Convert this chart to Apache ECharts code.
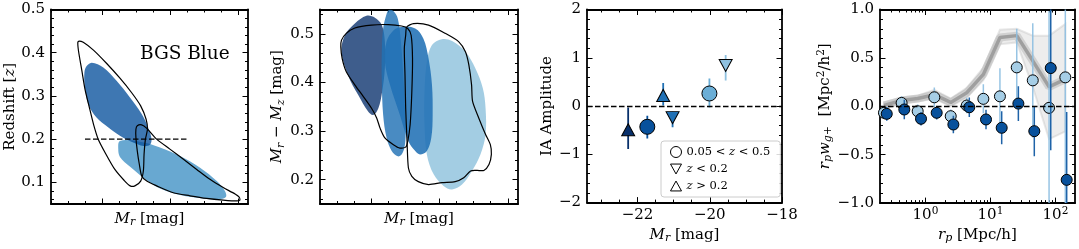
<!DOCTYPE html>
<html><head><meta charset="utf-8">
<script src="https://cdn.jsdelivr.net/npm/echarts@6/dist/echarts.min.js"></script>
<style>html,body{margin:0;padding:0;background:#fff}#c{width:1079px;height:249px}</style>
</head><body><div id="c"></div>
<script>
// ================= DATA =================
// Panel 1: Mr vs redshift (contours / density blobs)
const p1XMajor = [-22, -20, -18];
const p1XMinor = [-23.5, -23, -22.5, -21.5, -21, -20.5, -19.5, -19, -18.5];
const p1YMajor = [0.1, 0.2, 0.3, 0.4, 0.5];
const p1YMinor = [0.06, 0.08, 0.12, 0.14, 0.16, 0.18, 0.22, 0.24, 0.26, 0.28, 0.32, 0.34, 0.36, 0.38, 0.42, 0.44, 0.46, 0.48];
const p1DarkBlob = [[-22.30,0.377],[-21.96,0.366],[-21.57,0.335],[-21.17,0.296],[-20.83,0.258],[-20.64,0.227],[-20.54,0.200],[-20.59,0.187],[-20.78,0.184],[-21.08,0.192],[-21.47,0.208],[-21.81,0.227],[-22.16,0.250],[-22.40,0.281],[-22.50,0.319],[-22.52,0.350],[-22.47,0.367]];
const p1LightBlob = [[-21.47,0.196],[-20.88,0.194],[-20.29,0.181],[-19.70,0.161],[-19.11,0.134],[-18.62,0.103],[-18.38,0.080],[-18.35,0.066],[-18.57,0.061],[-19.02,0.063],[-19.70,0.071],[-20.29,0.086],[-20.78,0.111],[-21.17,0.136],[-21.47,0.159],[-21.52,0.177]];
const p1ContourHigh = [[-22.67,0.427],[-22.55,0.424],[-22.25,0.406],[-21.86,0.375],[-21.47,0.341],[-21.13,0.308],[-20.86,0.277],[-20.70,0.246],[-20.66,0.223],[-20.72,0.200],[-20.76,0.165],[-20.78,0.127],[-20.86,0.103],[-21.03,0.092],[-21.17,0.092],[-21.35,0.105],[-21.62,0.130],[-21.88,0.165],[-22.11,0.200],[-22.25,0.235],[-22.37,0.273],[-22.50,0.316],[-22.59,0.358],[-22.69,0.404],[-22.71,0.424]];
const p1ContourLow = [[-20.96,0.231],[-20.83,0.233],[-20.68,0.225],[-20.39,0.200],[-20.00,0.177],[-19.61,0.154],[-19.21,0.130],[-18.82,0.107],[-18.43,0.088],[-18.08,0.073],[-17.96,0.066],[-17.94,0.059],[-18.03,0.057],[-18.43,0.059],[-18.92,0.063],[-19.41,0.069],[-19.90,0.076],[-20.39,0.092],[-20.68,0.103],[-20.83,0.115],[-20.90,0.142],[-20.96,0.173],[-21.00,0.204],[-21.00,0.223]];
const p1Split = [[-22.5, 0.2], [-19.5, 0.2]];

// Panel 2: Mr vs Mr - Mz
const p2YMajor = [0.2, 0.3, 0.4, 0.5];
const p2YMinor = [0.16, 0.18, 0.22, 0.24, 0.26, 0.28, 0.32, 0.34, 0.36, 0.38, 0.42, 0.44, 0.46, 0.48, 0.52, 0.54];
const p2Navy = [[-22.14,0.537],[-21.89,0.533],[-21.69,0.518],[-21.60,0.484],[-21.60,0.429],[-21.68,0.381],[-21.79,0.347],[-21.94,0.333],[-22.09,0.340],[-22.38,0.374],[-22.68,0.415],[-22.87,0.463],[-22.77,0.497],[-22.48,0.521]];
const p2Tall = [[-21.48,0.549],[-21.35,0.547],[-21.22,0.531],[-21.13,0.484],[-21.06,0.415],[-21.01,0.347],[-20.99,0.293],[-21.03,0.265],[-21.11,0.252],[-21.22,0.248],[-21.40,0.259],[-21.55,0.286],[-21.65,0.333],[-21.69,0.402],[-21.69,0.463],[-21.65,0.511],[-21.55,0.541]];
const p2Mid = [[-21.11,0.514],[-20.71,0.511],[-20.47,0.490],[-20.32,0.449],[-20.22,0.395],[-20.20,0.333],[-20.24,0.286],[-20.37,0.259],[-20.57,0.252],[-20.71,0.259],[-20.91,0.279],[-21.16,0.333],[-21.45,0.395],[-21.60,0.443],[-21.55,0.484],[-21.35,0.507]];
const p2Light = [[-19.93,0.489],[-19.63,0.485],[-19.24,0.463],[-18.95,0.429],[-18.73,0.388],[-18.65,0.347],[-18.65,0.293],[-18.80,0.252],[-19.05,0.218],[-19.34,0.190],[-19.63,0.180],[-19.88,0.187],[-20.17,0.211],[-20.37,0.252],[-20.44,0.313],[-20.44,0.381],[-20.37,0.443],[-20.22,0.477]];
const p2ContourLeft = [[-22.87,0.487],[-22.73,0.501],[-22.48,0.512],[-21.99,0.518],[-21.50,0.519],[-21.11,0.516],[-20.93,0.511],[-20.83,0.497],[-20.79,0.449],[-20.81,0.381],[-20.86,0.313],[-20.93,0.279],[-20.99,0.267],[-21.16,0.265],[-21.35,0.272],[-21.60,0.286],[-21.74,0.306],[-21.84,0.327],[-21.99,0.347],[-22.23,0.371],[-22.48,0.395],[-22.73,0.422],[-22.85,0.449],[-22.89,0.473]];
const p2ContourRight = [[-20.99,0.497],[-20.96,0.514],[-20.76,0.521],[-20.32,0.518],[-19.83,0.501],[-19.44,0.484],[-19.24,0.463],[-19.14,0.436],[-19.06,0.395],[-19.03,0.361],[-18.85,0.327],[-18.65,0.293],[-18.51,0.272],[-18.48,0.252],[-18.55,0.231],[-18.70,0.219],[-18.90,0.219],[-19.09,0.218],[-19.29,0.204],[-19.54,0.196],[-19.93,0.194],[-20.32,0.190],[-20.62,0.196],[-20.81,0.207],[-20.91,0.224],[-20.95,0.279],[-20.99,0.347],[-21.01,0.415],[-21.03,0.470]];

// Panel 3: IA amplitude vs Mr
const p3XMajor = [-22, -20, -18];
const p3XMinor = [-23, -22.5, -21.5, -21, -20.5, -19.5, -19, -18.5];
const p3YMajor = [-2, -1, 0, 1, 2];
const p3YMinor = [-1.8,-1.6,-1.4,-1.2,-0.8,-0.6,-0.4,-0.2,0.2,0.4,0.6,0.8,1.2,1.4,1.6,1.8];
const circMr = [-21.73, -20.01], circA = [-0.43, 0.26], circLo = [-0.67, -0.03], circHi = [-0.20, 0.57];
const circColors = ['#08519c', '#6baed6'];
const downMr = [-21.03, -19.56], downA = [-0.24, 0.84], downLo = [-0.44, 0.53], downHi = [-0.12, 1.06];
const downColors = ['#2171b5', '#8fc1e0'];
const upMr = [-22.26, -21.29], upA = [-0.49, 0.22], upLo = [-0.89, 0.01], upHi = [-0.03, 0.48];
const upColors = ['#08306b', '#2171b5'];
const legendNames = ['0.05 < z < 0.5', 'z < 0.2', 'z > 0.2'];

// Panel 4: rp * wg+ vs rp
const p4XMajor = [1, 10, 100];
const p4XMinor = [0.3,0.4,0.5,0.6,0.7,0.8,0.9,2,3,4,5,6,7,8,9,20,30,40,50,60,70,80,90];
const p4YMajor = [-1, -0.5, 0, 0.5, 1];
const p4YMinor = [-0.9,-0.8,-0.7,-0.6,-0.4,-0.3,-0.2,-0.1,0.1,0.2,0.3,0.4,0.6,0.7,0.8,0.9];
const rpLight = [0.23,0.43,0.76,1.37,2.45,4.32,7.78,14.0,25.4,44.8,79.8,142];
const wLight = [-0.067,0.035,-0.051,0.093,-0.102,0.008,0.077,0.103,0.402,0.268,-0.016,0.299];
const wLightErr = [0.06,0.07,0.07,0.10,0.07,0.08,0.15,0.29,0.40,0.59,1.00,1.30];
const rpDark = [0.254,0.473,0.855,1.49,2.69,4.73,8.55,14.9,26.9,47.3,84.7,149];
const wDark = [-0.078,-0.033,-0.129,-0.067,-0.188,-0.010,-0.136,-0.222,0.028,-0.257,0.395,-0.760];
const wDarkErr = [0.07,0.10,0.07,0.07,0.09,0.10,0.10,0.17,0.18,0.26,0.85,0.70];
const rpModel = [0.23,0.43,0.76,1.37,2.45,4.32,7.78,14.0,25.4,44.8,79.8,142];
const wModel = [0.01,0.06,0.08,0.12,0.04,0.14,0.33,0.71,0.73,0.47,0.20,0.28];
const wModelLo = [-0.02,0.03,0.05,0.08,0.00,0.09,0.27,0.64,0.66,0.20,-0.34,-0.26];
const wModelHi = [0.04,0.09,0.11,0.17,0.08,0.19,0.40,0.79,0.80,0.73,0.73,0.85];

// ================= STYLE / BUILD =================
const FONT = 'DejaVu Serif';
const FS = 15;
const rich = {
  n: {fontFamily: FONT, fontSize: FS, color: '#000', verticalAlign: 'middle'},
  i: {fontFamily: FONT, fontSize: FS, fontStyle: 'italic', color: '#000', verticalAlign: 'middle'},
  sub: {fontFamily: FONT, fontSize: 11, fontStyle: 'italic', color: '#000', verticalAlign: 'bottom', padding: [7, 0, 0, 0]},
  sup: {fontFamily: FONT, fontSize: 10.5, color: '#000', verticalAlign: 'top', padding: [0, 0, 7, 0]}
};
const tickLine = {color: '#000', width: 1};
const frameLine = {color: '#000', width: 1.8};
const xAxes = [], yAxes = [];
function axisSet(kind, grid, o) {
  const arr = kind === 'x' ? xAxes : yAxes;
  const pos = kind === 'x' ? ['bottom', 'top'] : ['left', 'right'];
  const base = {gridIndex: grid, type: o.type || 'value', min: o.min, max: o.max,
    splitLine: {show: false}, axisPointer: {show: false}, silent: true};
  if (o.type === 'log') base.logBase = 10;
  const idx = arr.length;
  pos.forEach((p, k) => {
    arr.push(Object.assign({}, base, {
      position: p,
      axisLine: {show: true, onZero: false, lineStyle: frameLine},
      axisTick: {show: true, inside: true, length: 5.5, customValues: o.major, lineStyle: tickLine},
      axisLabel: (k === 0 && o.labels) ? {show: true, customValues: o.major, formatter: o.fmt, margin: o.margin,
        color: '#000', fontFamily: FONT, fontSize: FS, rich: rich} : {show: false},
      name: k === 0 ? (o.name || '') : '', nameLocation: 'middle', nameGap: o.nameGap || 0,
      nameTextStyle: {fontFamily: FONT, fontSize: FS, color: '#000', rich: rich}
    }));
    arr.push(Object.assign({}, base, {
      position: p,
      axisLine: {show: false, onZero: false},
      axisTick: {show: true, inside: true, length: 3, customValues: o.minor, lineStyle: tickLine},
      axisLabel: {show: false}
    }));
  });
  return idx;
}
const minus = s => s.replace('-', '\u2212');
const f1 = v => '{n|' + minus(v.toFixed(1)) + '}';
const f0 = v => '{n|' + minus(String(v)) + '}';

const grids = [
  {left: 51, top: 9.5, width: 197, height: 194.5},
  {left: 320, top: 9.5, width: 198, height: 194.5},
  {left: 587, top: 9.5, width: 195, height: 194.5},
  {left: 880, top: 9.5, width: 195, height: 194.5}
];
const magLabel = '{i|M}{sub|r}{n| [mag]}';
const x1 = axisSet('x', 0, {min: -23.5, max: -17.7, major: p1XMajor, minor: p1XMinor, labels: false, name: magLabel, nameGap: 6});
const y1 = axisSet('y', 0, {min: 0.05, max: 0.5, major: p1YMajor, minor: p1YMinor, labels: true, fmt: f1, margin: 6, name: '{n|Redshift [}{i|z}{n|]}', nameGap: 33});
const x2 = axisSet('x', 1, {min: -23.5, max: -17.7, major: p1XMajor, minor: p1XMinor, labels: false, name: magLabel, nameGap: 6});
const y2 = axisSet('y', 1, {min: 0.15, max: 0.55, major: p2YMajor, minor: p2YMinor, labels: true, fmt: f1, margin: 6, name: '{i|M}{sub|r}{n| \u2212 }{i|M}{sub|z}{n| [mag]}', nameGap: 33});
const x3 = axisSet('x', 2, {min: -23.4, max: -18, major: p3XMajor, minor: p3XMinor, labels: true, fmt: f0, margin: 5, name: magLabel, nameGap: 22});
const y3 = axisSet('y', 2, {min: -2, max: 2, major: p3YMajor, minor: p3YMinor, labels: true, fmt: f0, margin: 6, name: '{n|IA Amplitude}', nameGap: 27});
const x4 = axisSet('x', 3, {type: 'log', min: 0.2, max: 200, major: p4XMajor, minor: p4XMinor, labels: true,
  fmt: v => '{n|10}{sup|' + Math.round(Math.log10(v)) + '}', margin: 3, name: '{i|r}{sub|p}{n| [Mpc/h]}', nameGap: 21});
const y4 = axisSet('y', 3, {min: -1, max: 1, major: p4YMajor, minor: p4YMinor, labels: true, fmt: f1, margin: 6,
  name: '{i|r}{sub|p}{i|w}{sub|g+}{n|  [Mpc}{sup|2}{n|/h}{sup|2}{n|]}', nameGap: 45});

function polys(xi, yi, shapes, z) {
  return {type: 'custom', xAxisIndex: xi, yAxisIndex: yi, z: z, clip: true, silent: true,
    data: shapes.map(s => s.pts[0]),
    renderItem: (params, api) => {
      const s = shapes[params.dataIndex];
      return {type: 'polygon', shape: {points: s.pts.map(p => api.coord(p)), smooth: s.smooth == null ? 0.35 : s.smooth},
        style: s.fill ? {fill: s.fill} : {fill: 'none', stroke: '#000', lineWidth: 1.2}};
    }};
}
function errBars(xi, yi, xs, lo, hi, colors, width, z) {
  return {type: 'custom', xAxisIndex: xi, yAxisIndex: yi, z: z, clip: true, silent: true,
    data: xs.map((x, i) => [x, lo[i], hi[i]]),
    encode: {x: 0, y: [1, 2]},
    renderItem: (params, api) => {
      const a = api.coord([api.value(0), api.value(1)]);
      const b = api.coord([api.value(0), api.value(2)]);
      const c = Array.isArray(colors) ? colors[params.dataIndex] : colors;
      return {type: 'line', shape: {x1: a[0], y1: a[1], x2: b[0], y2: b[1]}, style: {stroke: c, lineWidth: width}};
    }};
}
function markers(xi, yi, xs, ys, colors, symbol, size, z, name) {
  return {type: 'scatter', name: name, xAxisIndex: xi, yAxisIndex: yi, z: z, silent: true, symbol: symbol, symbolSize: size,
    data: xs.map((x, i) => ({value: [x, ys[i]], itemStyle: {color: Array.isArray(colors) ? colors[i] : colors}})),
    itemStyle: {borderColor: '#000', borderWidth: 1, opacity: 1}};
}
const zeroLine = {symbol: 'none', silent: true, label: {show: false}, data: [{yAxis: 0}],
  lineStyle: {type: [5.5, 2.5], color: '#000', width: 1.4}};
const triDown = 'path://M0,0L10,0L5,9Z';
const triUp = 'path://M5,0L10,9L0,9Z';

const series = [];
// panel 1
series.push(polys(x1, y1, [
  {pts: p1LightBlob, fill: 'rgba(66,146,198,0.8)'},
  {pts: p1DarkBlob, fill: 'rgba(8,81,156,0.78)'}
], 1));
series.push(polys(x1, y1, [{pts: p1ContourHigh, smooth: 0.25}, {pts: p1ContourLow, smooth: 0.25}], 2));
series.push({type: 'line', xAxisIndex: x1, yAxisIndex: y1, z: 3, silent: true, symbol: 'none', data: p1Split,
  lineStyle: {type: [5.5, 2.5], color: '#000', width: 1.4}});
// panel 2
series.push(polys(x2, y2, [
  {pts: p2Light, fill: 'rgba(158,202,225,0.95)'},
  {pts: p2Navy, fill: 'rgba(8,48,107,0.78)'},
  {pts: p2Tall, fill: 'rgba(33,113,181,0.82)'},
  {pts: p2Mid, fill: 'rgba(33,113,181,0.88)'}
], 1));
series.push(polys(x2, y2, [{pts: p2ContourLeft, smooth: 0.25}, {pts: p2ContourRight, smooth: 0.25}], 2));
// panel 3
series.push(errBars(x3, y3, circMr, circLo, circHi, circColors, 1.8, 2));
series.push(errBars(x3, y3, downMr, downLo, downHi, downColors, 1.8, 2));
series.push(errBars(x3, y3, upMr, upLo, upHi, upColors, 1.8, 2));
series.push(Object.assign(markers(x3, y3, circMr, circA, circColors, 'circle', 15, 4, legendNames[0]), {markLine: zeroLine}));
series.push(markers(x3, y3, downMr, downA, downColors, triDown, [13, 12], 4, legendNames[1]));
series.push(markers(x3, y3, upMr, upA, upColors, triUp, [13, 12], 4, legendNames[2]));
// panel 4
series.push({type: 'custom', xAxisIndex: x4, yAxisIndex: y4, z: 1, clip: true, silent: true,
  data: [[rpModel[0], wModelHi[0]]],
  renderItem: (params, api) => {
    const pts = rpModel.map((r, i) => api.coord([r, wModelHi[i]]))
      .concat(rpModel.map((r, i) => api.coord([r, wModelLo[i]])).reverse());
    return {type: 'polygon', shape: {points: pts}, style: {fill: 'rgba(190,190,190,0.28)', stroke: 'rgba(190,190,190,0.35)', lineWidth: 2}};
  }});
series.push({type: 'line', xAxisIndex: x4, yAxisIndex: y4, z: 2, silent: true, symbol: 'none',
  data: rpModel.map((r, i) => [r, wModel[i]]), lineStyle: {color: 'rgba(175,175,175,0.45)', width: 8}});
series.push({type: 'line', xAxisIndex: x4, yAxisIndex: y4, z: 2, silent: true, symbol: 'none',
  data: rpModel.map((r, i) => [r, wModel[i]]), lineStyle: {color: 'rgba(150,150,150,0.85)', width: 3.5}});
series.push(errBars(x4, y4, rpLight, wLight.map((w, i) => w - wLightErr[i]), wLight.map((w, i) => w + wLightErr[i]), 'rgba(140,190,225,0.9)', 1.5, 3));
series.push(markers(x4, y4, rpLight, wLight, '#a6cee6', 'circle', 11, 4));
series.push(errBars(x4, y4, rpDark, wDark.map((w, i) => w - wDarkErr[i]), wDark.map((w, i) => w + wDarkErr[i]), '#1f63a8', 1.5, 5));
series.push(Object.assign(markers(x4, y4, rpDark, wDark, '#08519c', 'circle', 11, 6), {markLine: Object.assign({}, zeroLine, {z: 7})}));

const legendRich = {
  n: {fontFamily: FONT, fontSize: 11.5, color: '#000'},
  i: {fontFamily: FONT, fontSize: 11.5, fontStyle: 'italic', color: '#000'}
};
const legendText = {};
legendNames.forEach(nm => {
  legendText[nm] = nm.split('z').map(s => s ? '{n|' + s + '}' : '').join('{i|z}');
});

const chart = echarts.init(document.getElementById('c'), null, {renderer: 'canvas'});
chart.setOption({
  animation: false,
  backgroundColor: '#fff',
  grid: grids,
  xAxis: xAxes,
  yAxis: yAxes,
  series: series,
  legend: {
    data: legendNames, left: 661, top: 141, orient: 'vertical', selectedMode: false,
    itemWidth: 11, itemHeight: 11, itemGap: 5, padding: [5, 10, 5, 9],
    backgroundColor: 'rgba(255,255,255,0.85)', borderColor: '#cccccc', borderWidth: 1, borderRadius: 3,
    itemStyle: {color: '#fff', borderColor: '#000', borderWidth: 1},
    formatter: nm => legendText[nm],
    textStyle: {fontFamily: FONT, fontSize: 11.5, color: '#000', rich: legendRich}
  },
  graphic: [{type: 'text', left: 140, top: 45, silent: true,
    style: {text: 'BGS Blue', fontFamily: FONT, fontSize: 18.5, fill: '#000'}}]
});
</script>
</body></html>
